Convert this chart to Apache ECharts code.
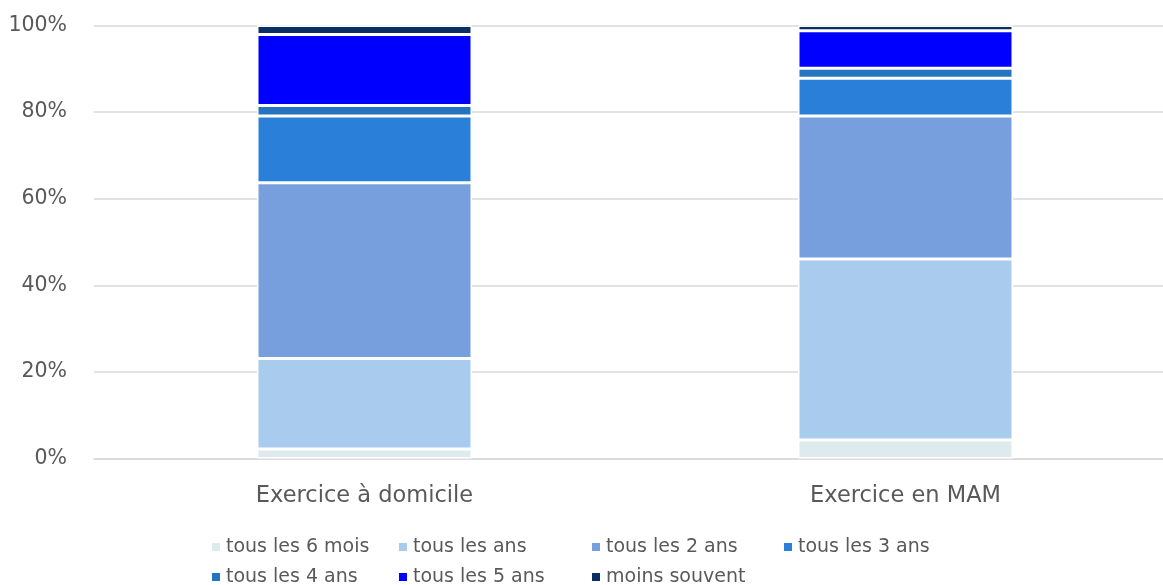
<!DOCTYPE html>
<html>
<head>
<meta charset="utf-8">
<script src="https://cdn.jsdelivr.net/npm/echarts@6/dist/echarts.min.js"></script>
<style>html,body{margin:0;padding:0;background:#fff}#c{width:1163px;height:585px}</style>
</head>
<body>
<div id="c"></div>
<script>
const categories = ['Exercice à domicile', 'Exercice en MAM'];
const seriesNames = ['tous les 6 mois', 'tous les ans', 'tous les 2 ans', 'tous les 3 ans', 'tous les 4 ans', 'tous les 5 ans', 'moins souvent'];
const tous6mois = [2.2, 4.3];
const tousAns = [20.9, 41.8];
const tous2ans = [40.6, 33.0];
const tous3ans = [15.4, 8.7];
const tous4ans = [2.4, 2.3];
const tous5ans = [16.4, 8.7];
const moinsSouvent = [2.1, 1.2];
const yTicks = [0, 20, 40, 60, 80, 100];

const values = [tous6mois, tousAns, tous2ans, tous3ans, tous4ans, tous5ans, moinsSouvent];
const colors = ['#DDEAEE', '#A9CBEE', '#789FDD', '#2A80D8', '#2574C0', '#0000FF', '#0A2F64'];
const font = '"DejaVu Sans", sans-serif';

// legend slot positions (left, top) per item
const legendSlots = [[210, 537], [397, 537], [590, 537], [782, 537], [210, 567], [397, 567], [590, 567]];

const chart = echarts.init(document.getElementById('c'));
chart.setOption({
  animation: false,
  color: colors,
  grid: { left: 94, top: 25.5, right: -13, height: 433, containLabel: false, outerBoundsMode: 'none' },
  legend: seriesNames.map((n, i) => ({
    left: legendSlots[i][0], top: legendSlots[i][1],
    itemWidth: 10, itemHeight: 10, icon: 'rect', padding: 0,
    textStyle: { fontFamily: font, fontSize: 19, color: '#595959', lineHeight: 20 },
    data: [n]
  })),
  xAxis: {
    type: 'category', data: categories,
    axisLine: { lineStyle: { color: '#D9D9D9', width: 1.5 } },
    axisTick: { show: false },
    axisLabel: { fontFamily: font, fontSize: 22.5, color: '#595959', margin: 26 }
  },
  yAxis: {
    type: 'value', min: 0, max: 100, interval: 20,
    axisLabel: { formatter: v => yTicks.includes(v) ? v + '%' : '', fontFamily: font, fontSize: 20.5, color: '#595959', margin: 27 },
    splitLine: { lineStyle: { color: '#D9D9D9', width: 1.5 } },
    axisLine: { show: false }, axisTick: { show: false }
  },
  series: seriesNames.map((n, i) => ({
    name: n, type: 'bar', stack: 'total', barWidth: 215,
    itemStyle: { borderColor: '#fff', borderWidth: 1.5 },
    data: values[i]
  }))
});
</script>
</body>
</html>
